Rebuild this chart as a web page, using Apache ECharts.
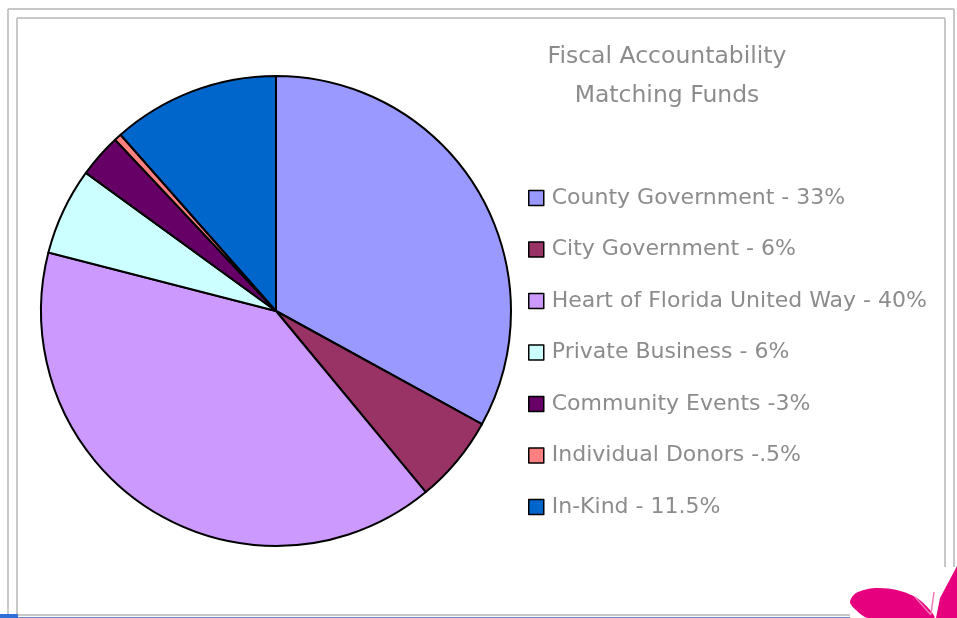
<!DOCTYPE html>
<html>
<head>
<meta charset="utf-8">
<script src="https://cdn.jsdelivr.net/npm/echarts@6/dist/echarts.min.js"></script>
<style>
  html, body { margin: 0; padding: 0; background: #fff; }
  #chart { width: 957px; height: 618px; }
</style>
</head>
<body>
<div id="chart"></div>
<script>
// funding sources, clockwise from 12 o'clock
const categories = [
  'County Government - 33%',
  'City Government - 6%',
  'Heart of Florida United Way - 40%',
  'Private Business - 6%',
  'Community Events -3%',
  'Individual Donors -.5%',
  'In-Kind - 11.5%'
]
const shares = [33, 6, 40, 6, 3, 0.5, 11.5]
const colors = ['#9999FF', '#993366', '#CC99FF', '#CCFFFF', '#660066', '#FF8080', '#0066CC']

const gray = '#c8c8c8'
const font = 'DejaVu Sans'

const chart = echarts.init(document.getElementById('chart'))

function line(x1, y1, x2, y2, color, w) {
  return { type: 'line', shape: { x1: x1, y1: y1, x2: x2, y2: y2 }, style: { stroke: color, lineWidth: w }, silent: true }
}

chart.setOption({
  animation: false,
  title: {
    text: 'Fiscal Accountability\nMatching Funds',
    left: 662,
    top: 32,
    textAlign: 'center',
    textStyle: { fontFamily: font, fontSize: 23.5, fontWeight: 'normal', color: '#8c8c8c', lineHeight: 39 }
  },
  legend: {
    orient: 'vertical',
    left: 523,
    top: 182,
    itemWidth: 15,
    itemHeight: 15,
    itemGap: 29.5,
    icon: 'rect',
    itemStyle: { borderColor: '#000', borderWidth: 1.5 },
    textStyle: { fontFamily: font, fontSize: 22, color: '#8c8c8c', lineHeight: 20, padding: [0, 0, 0, 3] },
    data: categories
  },
  graphic: [
    // frame
    line(8, 9, 954, 9, gray, 2),
    line(8, 9, 8, 618, gray, 2),
    line(954, 9, 954, 567, gray, 2),
    line(17, 18, 945, 18, gray, 2),
    line(17, 18, 17, 615, gray, 2),
    line(945, 18, 945, 567, gray, 2),
    line(17, 615, 850, 615, gray, 2),
    line(0, 617.5, 850, 617.5, '#6d8fd0', 1),
    { type: 'rect', shape: { x: 0, y: 614, width: 18, height: 4 }, style: { fill: '#2f6fd8' }, silent: true },
    // butterfly corner decoration
    {
      type: 'polygon',
      shape: { points: [[850, 602], [856, 593], [875, 588], [897, 590], [917, 598], [930, 610], [934, 618], [868, 618], [856, 610]], smooth: 0.3 },
      style: { fill: '#E6007E' }, silent: true
    },
    {
      type: 'polygon',
      shape: { points: [[936, 618], [940, 598], [957, 566], [957, 618]] },
      style: { fill: '#E6007E' }, silent: true
    },
    line(915, 597, 931, 615, '#f07ab8', 1.5),
    line(934, 592, 931, 614, '#f07ab8', 1.5)
  ],
  series: [{
    type: 'pie',
    center: [276, 311],
    radius: 235,
    startAngle: 90,
    clockwise: true,
    label: { show: false },
    labelLine: { show: false },
    emphasis: { disabled: true },
    itemStyle: { borderColor: '#000', borderWidth: 2 },
    data: categories.map(function (name, i) {
      return { name: name, value: shares[i], itemStyle: { color: colors[i] } }
    })
  }]
})
</script>
</body>
</html>
